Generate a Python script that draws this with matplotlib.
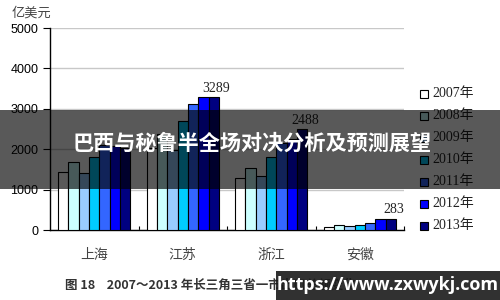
import numpy as np
import matplotlib.pyplot as plt
from matplotlib.patches import Rectangle

plt.rcParams['font.family'] = ['Liberation Sans', 'Noto Sans CJK SC']

provinces = ['上海', '江苏', '浙江', '安徽']
years = ['2007年', '2008年', '2009年', '2010年', '2011年', '2012年', '2013年']
# exports by year (rows) and province (columns), 100 million USD
exports = [
    [1439, 2037, 1283, 82],
    [1693, 2380, 1543, 114],
    [1419, 1992, 1330, 89],
    [1807, 2706, 1805, 124],
    [2097, 3126, 2164, 171],
    [2068, 3285, 2246, 268],
    [2042, 3289, 2488, 283],
]
colors = ['#FFFFFF', '#CCFFFF', '#99CCFF', '#00CCFF', '#3366FF', '#0000FF', '#000080']
yticks = [0, 1000, 2000, 3000, 4000, 5000]
title = '巴西与秘鲁半全场对决分析及预测展望'
caption = '图 18    2007～2013 年长三角三省一市出口总额变化'
watermark = 'https://www.zxwykj.com'

fig = plt.figure(figsize=(5, 3), dpi=100)
ax = fig.add_axes([0.1, 0.2333, 0.708, 0.6733])

x = np.arange(len(provinces))
w = 0.117
for j, (yr, vals) in enumerate(zip(years, exports)):
    ax.bar(x + (j - 3) * w, vals, width=w, color=colors[j], edgecolor='black',
           linewidth=0.8, zorder=3)

# value labels above the tallest bars
for i in [1, 2, 3]:
    v = exports[-1][i]
    ax.text(x[i] + 3 * w + 0.03, v + 60, str(v), ha='center', va='bottom',
            fontsize=10, family=['Liberation Serif'], color='#222222')

ax.set_xlim(-0.5, 3.5)
ax.set_ylim(0, 5000)
ax.set_yticks(yticks)
ax.set_yticklabels([str(t) for t in yticks], fontsize=9)
ax.yaxis.grid(True, color='#c8c8c8', linewidth=1, zorder=0)
ax.set_xticks([0.5, 1.5, 2.5, 3.5])
ax.set_xticklabels([])
ax.set_xticks(x, minor=True)
ax.set_xticklabels(provinces, minor=True, fontsize=10, color='#444444',
                   family=['Noto Sans CJK SC'])
ax.tick_params(axis='x', which='major', direction='in', length=3)
ax.tick_params(axis='x', which='minor', length=0, pad=13)
ax.tick_params(axis='y', direction='out', length=5, width=0.8)
for s in ['top', 'right']:
    ax.spines[s].set_visible(False)
ax.spines['left'].set_linewidth(1)
ax.spines['bottom'].set_linewidth(1)

fig.text(0.024, 0.958, '亿美元', fontsize=9.5, color='#444444',
         family=['Noto Sans CJK SC'], va='center')

# legend drawn by hand
for j, yr in enumerate(years):
    yc = 1 - (94 + 22 * j) / 300
    fig.add_artist(Rectangle((420 / 500, yc - 0.012), 0.016, 0.0267,
                             transform=fig.transFigure, facecolor=colors[j],
                             edgecolor='black', linewidth=0.8))
    fig.text(432 / 500, yc, yr, fontsize=10, va='center', color='#222222',
             family=['Liberation Serif', 'Noto Sans CJK SC'])

fig.text(65 / 500, 1 - 285 / 300, caption, fontsize=9, fontweight='bold',
         color='#333333', va='center', family=['Noto Sans CJK SC'])

# overlay banner
fig.add_artist(Rectangle((0, 1 - 189 / 300), 1, 79 / 300, transform=fig.transFigure,
                         facecolor='black', alpha=0.65, edgecolor='none', zorder=10))
fig.text(0.505, 1 - 143 / 300, title, fontsize=15.2, fontweight='bold', color='white',
         ha='center', va='center', family=['Noto Sans CJK SC'], zorder=11)

# watermark
fig.add_artist(Rectangle((276 / 500, 0), 224 / 500, 29 / 300, transform=fig.transFigure,
                         facecolor='#1a1a1a', alpha=0.9, edgecolor='none', zorder=10))
fig.text(388 / 500, 1 - 285 / 300, watermark, fontsize=13, fontweight='bold',
         color='white', ha='center', va='center', family=['Open Sans'], zorder=11)

plt.savefig('out.png', dpi=100)
